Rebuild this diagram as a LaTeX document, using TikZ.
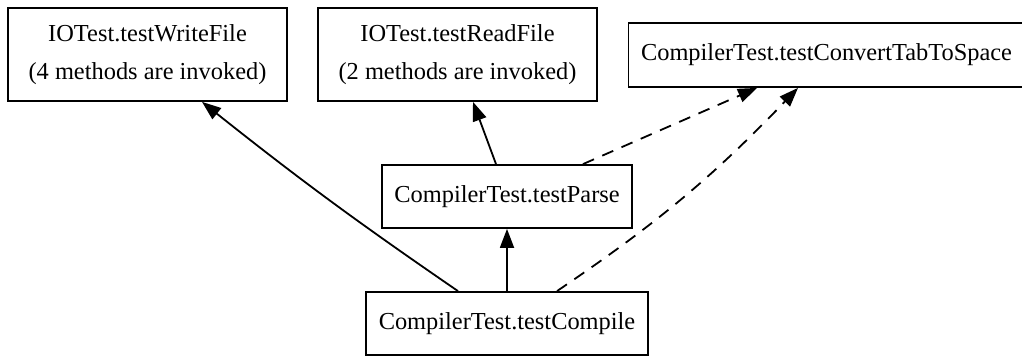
\documentclass[tikz,border=0pt]{standalone}
\usepackage{fontspec}
\setmainfont{Liberation Serif}
\usetikzlibrary{calc,arrows.meta}

\begin{document}
\begin{tikzpicture}[x=0.5pt,y=-0.5pt,
    testbox/.style={draw,line width=0.9pt,inner sep=0pt,align=center,
      font=\fontsize{12.2}{19}\selectfont},
    calls/.style={line width=0.9pt,-{Triangle[length=9.5pt,width=7pt]}},
    dashcalls/.style={calls,dash pattern=on 6pt off 4.5pt}]
	          %cadre
	          \useasboundingbox (0,0) rectangle (1022,356);
	          %TESTS
	          \node[testbox,minimum width=139.5pt,minimum height=46.5pt] (write) at (147.5,54.5)
	            {IOTest.testWriteFile\\(4 methods are invoked)};
	          \node[testbox,minimum width=139.5pt,minimum height=46.5pt] (read) at (457.5,54.5)
	            {IOTest.testReadFile\\(2 methods are invoked)};
	          \node[testbox,minimum width=201pt,minimum height=32pt] (conv) at (829.5,55)
	            {CompilerTest.testConvertTabToSpace\hspace*{3pt}};
	          \node[testbox,minimum width=125pt,minimum height=31.5pt] (parse) at (507,196.5)
	            {CompilerTest.testParse};
	          \node[testbox,minimum width=141pt,minimum height=31.5pt] (compile) at (507,323.5)
	            {CompilerTest.testCompile};
	          %appels
	          \draw[calls] ($(compile.north)+(-49,0)$) to[bend left=2] ($(write.south)+(54.5,0)$);
	          \draw[calls] (compile.north) -- (parse.south);
	          \draw[dashcalls] ($(compile.north)+(50,0)$) to[bend right=6] ($(conv.south)+(-31.5,0)$);
	          \draw[calls] ($(parse.north)+(-11,0)$) -- ($(read.south)+(15.5,0)$);
	          \draw[dashcalls] ($(parse.north)+(76,0)$) -- ($(conv.south)+(-72.5,0)$);
\end{tikzpicture}
\end{document}
